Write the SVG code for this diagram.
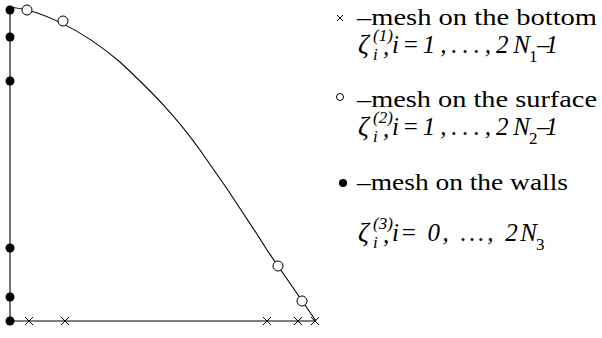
<svg xmlns="http://www.w3.org/2000/svg" width="602" height="338" viewBox="0 0 602 338">
<defs>
<style>
.ln{fill:none;stroke:#000;stroke-width:1.1}
.oc{fill:#fff;stroke:#000;stroke-width:1}
.dot{fill:#000}
.x{stroke:#000;stroke-width:1}
.t{font-family:"Liberation Serif","Times New Roman",serif;font-size:24px;fill:#000}
.m{font-family:"Liberation Serif","Times New Roman",serif;font-size:25px;font-style:italic;fill:#000}
.z{font-family:"Liberation Serif","Times New Roman",serif;font-size:27px;font-style:italic;fill:#000}
.s{font-family:"Liberation Serif","Times New Roman",serif;font-size:17px;font-style:italic;fill:#000}
.u{font-style:normal}
</style>
<path id="cr" d="M-4,-4L4,4M-4,4L4,-4"/>
</defs>
<g id="boundary">
<path class="ln" d="M10,8V321H316"/>
<path class="ln" d="M10,7C40,10 80,28 120,62C150,90 175,115 200,150C225,185 245,215 267,250L316,321"/>
</g>
<g id="walls">
<circle class="dot" cx="10" cy="10" r="4.5"/>
<circle class="dot" cx="10" cy="37" r="4.5"/>
<circle class="dot" cx="10" cy="81" r="4.5"/>
<circle class="dot" cx="10" cy="248" r="4.5"/>
<circle class="dot" cx="10" cy="297" r="4.5"/>
<circle class="dot" cx="10" cy="321" r="4.5"/>
</g>
<g id="surface">
<circle class="oc" cx="27" cy="10" r="5"/>
<circle class="oc" cx="63" cy="21" r="5"/>
<circle class="oc" cx="278" cy="266" r="5"/>
<circle class="oc" cx="302" cy="301" r="5"/>
</g>
<g id="bottom" class="x">
<use href="#cr" x="29" y="321"/>
<use href="#cr" x="65" y="321"/>
<use href="#cr" x="267" y="321"/>
<use href="#cr" x="298" y="321"/>
<use href="#cr" x="315" y="321"/>
</g>
<g id="legend-bottom">
<path class="x" d="M337,15L343,21M337,21L343,15"/>
<text class="t" x="357" y="25" textLength="240" lengthAdjust="spacingAndGlyphs">–mesh on the bottom</text>
<text class="z" x="358" y="53">ζ</text>
<text class="s" x="373" y="41">(1)</text>
<text class="s" x="373" y="60">i</text>
<text class="m" x="383" y="55">,</text>
<text class="m" x="392" y="53" textLength="138" lengthAdjust="spacing">i<tspan class="u">=</tspan>1,...,2N</text>
<text class="s u" x="529" y="62">1</text>
<text class="m" x="537" y="53" textLength="21" lengthAdjust="spacing">–1</text>
</g>
<g id="legend-surface">
<circle class="oc" cx="340" cy="97" r="3.5"/>
<text class="t" x="357" y="107" textLength="240" lengthAdjust="spacingAndGlyphs">–mesh on the surface</text>
<text class="z" x="358" y="135">ζ</text>
<text class="s" x="373" y="123">(2)</text>
<text class="s" x="373" y="142">i</text>
<text class="m" x="383" y="137">,</text>
<text class="m" x="392" y="135" textLength="138" lengthAdjust="spacing">i<tspan class="u">=</tspan>1,...,2N</text>
<text class="s u" x="529" y="144">2</text>
<text class="m" x="537" y="135" textLength="21" lengthAdjust="spacing">–1</text>
</g>
<g id="legend-walls">
<circle class="dot" cx="343" cy="183" r="4"/>
<text class="t" x="357" y="190" textLength="211" lengthAdjust="spacingAndGlyphs">–mesh on the walls</text>
<text class="z" x="358" y="241">ζ</text>
<text class="s" x="373" y="229">(3)</text>
<text class="s" x="373" y="248">i</text>
<text class="m" x="383" y="243">,</text>
<text class="m" x="392" y="241" textLength="145" lengthAdjust="spacing">i<tspan class="u">=</tspan> 0, ..., 2N</text>
<text class="s u" x="536" y="250">3</text>
</g>
</svg>
